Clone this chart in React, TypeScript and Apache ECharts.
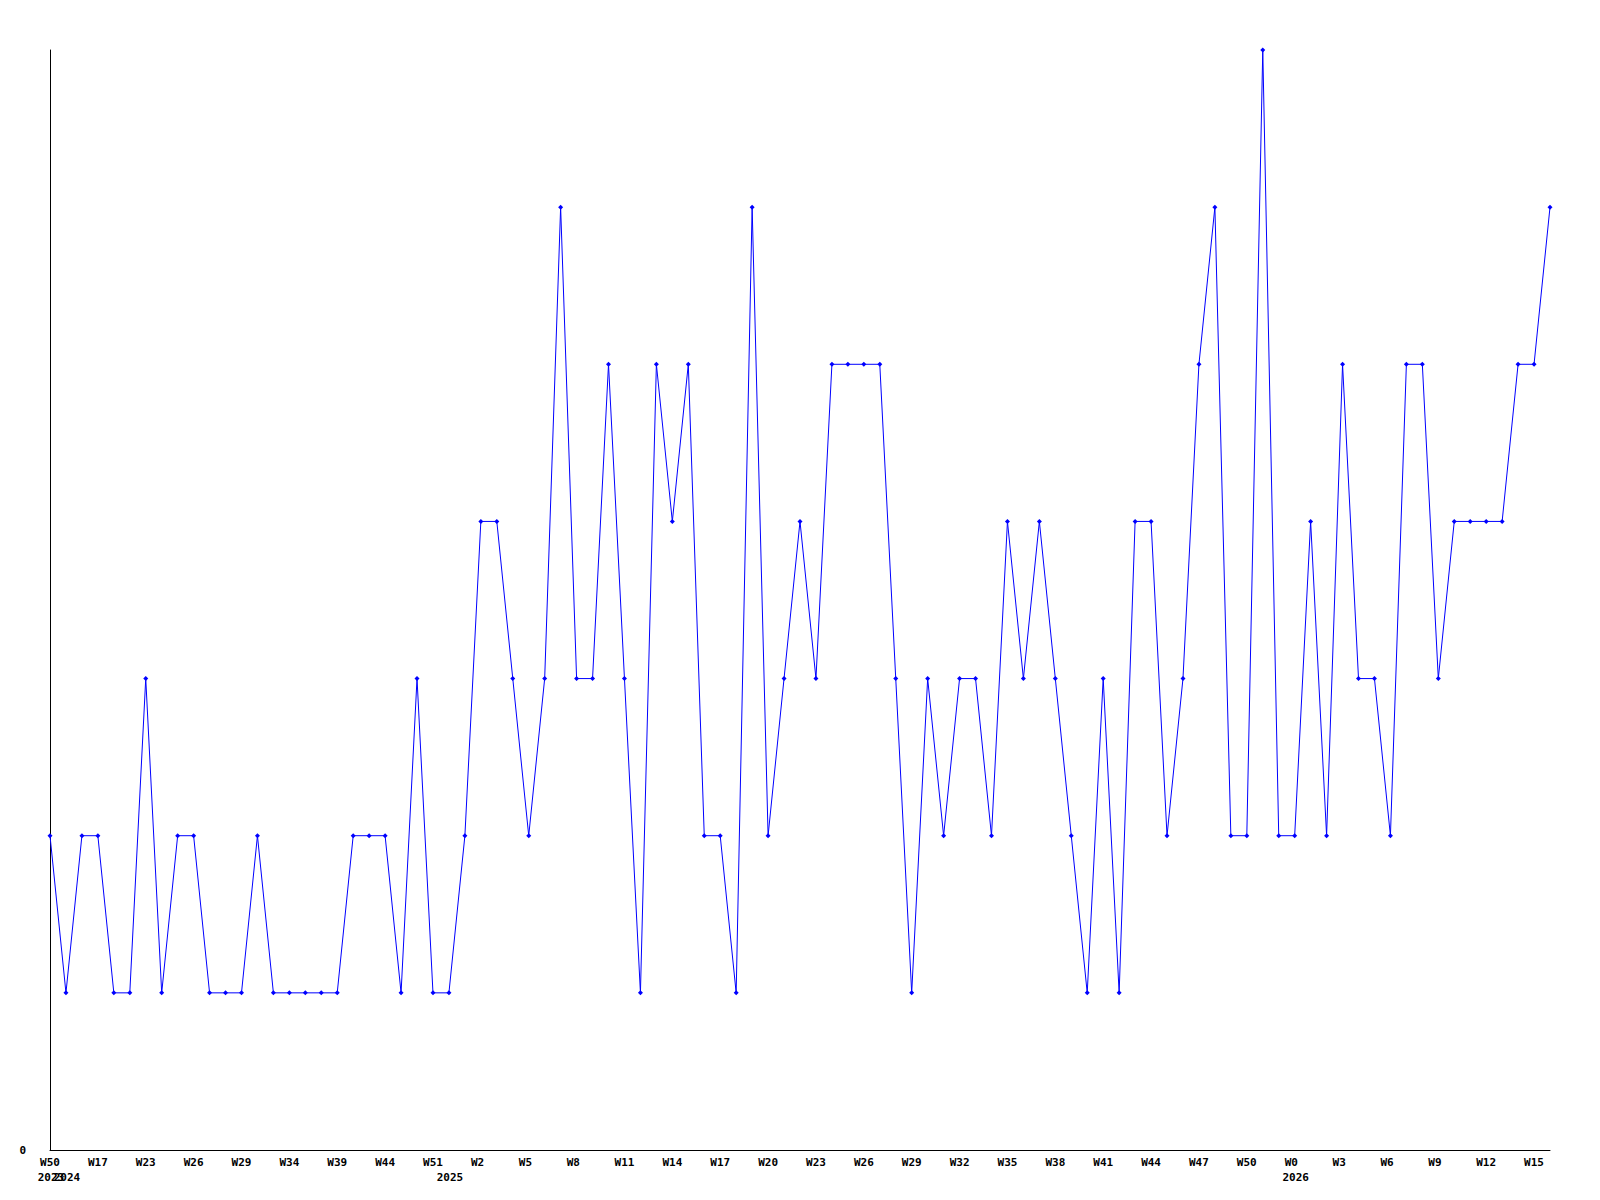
import React, { useEffect, useRef } from "react";
import * as echarts from "echarts";

const weeks: string[] = [
  "2023-W50",
  "2024-W14", "2024-W16", "2024-W17", "2024-W19", "2024-W21", "2024-W23", "2024-W24", "2024-W25",
  "2024-W26", "2024-W27", "2024-W28", "2024-W29", "2024-W31", "2024-W33", "2024-W34", "2024-W36",
  "2024-W37", "2024-W39", "2024-W41", "2024-W42", "2024-W44", "2024-W46", "2024-W48", "2024-W51",
  "2025-W0", "2025-W1", "2025-W2", "2025-W3", "2025-W4", "2025-W5", "2025-W6", "2025-W7", "2025-W8",
  "2025-W9", "2025-W10", "2025-W11", "2025-W12", "2025-W13", "2025-W14", "2025-W15", "2025-W16",
  "2025-W17", "2025-W18", "2025-W19", "2025-W20", "2025-W21", "2025-W22", "2025-W23", "2025-W24",
  "2025-W25", "2025-W26", "2025-W27", "2025-W28", "2025-W29", "2025-W30", "2025-W31", "2025-W32",
  "2025-W33", "2025-W34", "2025-W35", "2025-W36", "2025-W37", "2025-W38", "2025-W39", "2025-W40",
  "2025-W41", "2025-W42", "2025-W43", "2025-W44", "2025-W45", "2025-W46", "2025-W47", "2025-W48",
  "2025-W49", "2025-W50", "2025-W51", "2025-W52",
  "2026-W0", "2026-W1", "2026-W2", "2026-W3", "2026-W4", "2026-W5", "2026-W6", "2026-W7", "2026-W8",
  "2026-W9", "2026-W10", "2026-W11", "2026-W12", "2026-W13", "2026-W14", "2026-W15", "2026-W16",
];

const counts: number[] = [
  2, 1, 2, 2, 1, 1, 3, 1, 2, 2,
  1, 1, 1, 2, 1, 1, 1, 1, 1, 2,
  2, 2, 1, 3, 1, 1, 2, 4, 4, 3,
  2, 3, 6, 3, 3, 5, 3, 1, 5, 4,
  5, 2, 2, 1, 6, 2, 3, 4, 3, 5,
  5, 5, 5, 3, 1, 3, 2, 3, 3, 2,
  4, 3, 4, 3, 2, 1, 3, 1, 4, 4,
  2, 3, 5, 6, 2, 2, 7, 2, 2, 4,
  2, 5, 3, 3, 2, 5, 5, 3, 4, 4,
  4, 4, 5, 5, 6,
];

const yMin = 0;
const yMax = 7;

const FONT = "DejaVu Sans Mono";
const NBSP = "\u00a0";

export default function App() {
  const ref = useRef<HTMLDivElement>(null);

  useEffect(() => {
    if (!ref.current) return;
    const chart = echarts.init(ref.current, undefined, { renderer: "svg" });
    const yearStart = weeks.map((w, i) => i === 0 || weeks[i - 1].slice(0, 4) !== w.slice(0, 4));
    chart.setOption({
      animation: false,
      backgroundColor: "#ffffff",
      grid: { left: 50, right: 50, top: 50, bottom: 50, containLabel: false },
      xAxis: [
        {
          type: "category",
          data: weeks,
          boundaryGap: false,
          axisLine: { show: true, lineStyle: { color: "#000000", width: 1 } },
          axisTick: { show: false },
          splitLine: { show: false },
          axisLabel: {
            interval: 2,
            margin: 7,
            color: "#000000",
            fontFamily: FONT,
            fontWeight: "bold",
            fontSize: 11,
            formatter: (v: string) => {
              const s = v.split("-")[1];
              return s.length < 3 ? s + NBSP.repeat(3 - s.length) : s;
            },
          },
        },
        {
          type: "category",
          data: weeks,
          boundaryGap: false,
          position: "bottom",
          axisLine: { show: false },
          axisTick: { show: false },
          splitLine: { show: false },
          axisLabel: {
            interval: 0,
            margin: 22,
            color: "#000000",
            fontFamily: FONT,
            fontWeight: "bold",
            fontSize: 11,
            align: "center",
            padding: [0, 0, 0, 2],
            formatter: (v: string, i: number) => (yearStart[i] ? v.slice(0, 4) : ""),
          },
        },
      ],
      yAxis: {
        type: "value",
        min: yMin,
        max: yMax,
        interval: 7,
        axisLine: { show: true, lineStyle: { color: "#000000", width: 1 } },
        axisTick: { show: false },
        splitLine: { show: false },
        axisLabel: {
          margin: 24,
          color: "#000000",
          fontFamily: FONT,
          fontWeight: "bold",
          fontSize: 11,
          formatter: (v: number) => (v === 0 ? "0" : ""),
        },
      },
      series: [
        {
          type: "line",
          data: counts,
          xAxisIndex: 0,
          symbol: "diamond",
          symbolSize: 5,
          showAllSymbol: true,
          lineStyle: { color: "#0000ff", width: 1 },
          itemStyle: { color: "#0000ff" },
        },
      ],
    });
    return () => chart.dispose();
  }, []);

  return (
    <div
      ref={ref}
      style={{ position: "absolute", left: 0, top: 0, width: 1600, height: 1200, background: "#fff" }}
    />
  );
}
